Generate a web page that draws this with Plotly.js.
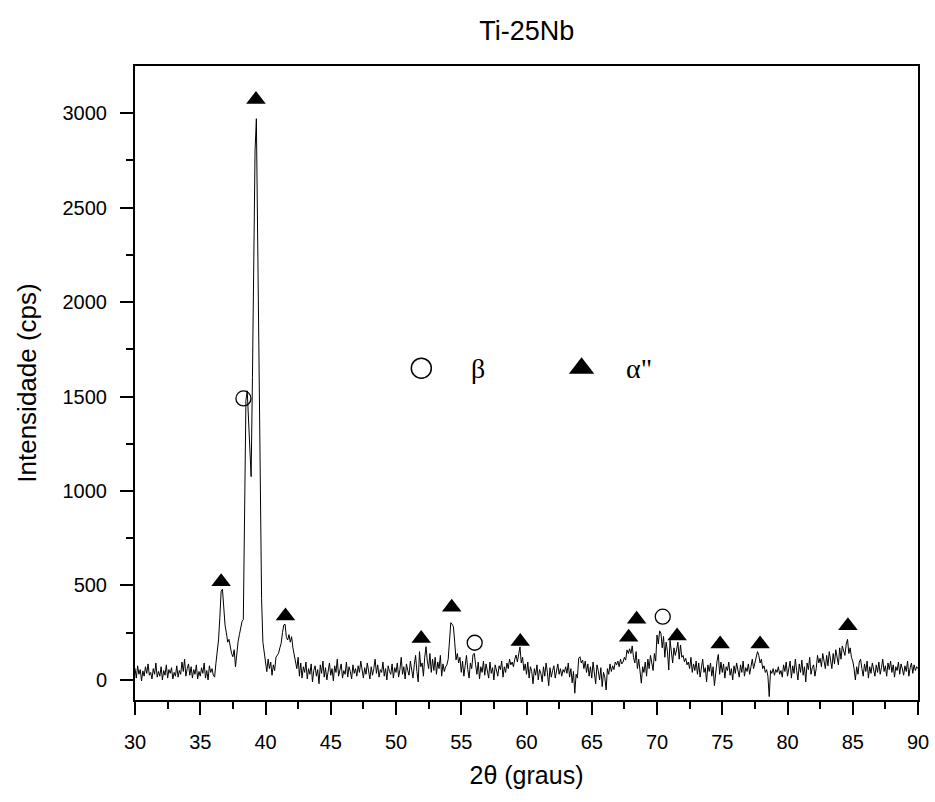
<!DOCTYPE html>
<html>
<head>
<meta charset="utf-8">
<script src="https://cdn.plot.ly/plotly-3.0.1.min.js"></script>
<style>html,body{margin:0;padding:0;background:#fff;}#chart{width:935px;height:802px;}</style>
</head>
<body>
<div id="chart"></div>
<script>
// 2theta grid: start 30, step 0.1 deg (601 points up to 90)
const twoThetaStart = 30;
const twoThetaStep = 0.1;

// Intensity (cps), one row per degree (d.0 ... d.9), last value at 90.0
const intensity = [
  62, 10, 75, 30, 55, -5, 48, 20, 70, 35,          // 30
  85, 25, 40, 5, 60, 30, 90, 15, 45, 20,           // 31
  70, 0, 50, 25, 80, 10, 55, 35, 65, 5,            // 32
  40, 20, 75, 15, 50, 30, 95, 45, 110, 20,         // 33
  60, 85, 25, 70, 10, 55, 30, 80, 5, 45,           // 34
  20, 65, 35, 90, 10, 50, 0, 75, 40, 60,           // 35
  25, 15, 88, 140, 212, 330, 470, 480, 380, 290,   // 36
  250, 200, 215, 168, 140, 123, 160, 70, 150, 203, // 37
  240, 280, 309, 320, 1100, 1480, 1530, 1400, 1200, 1076, // 38
  1600, 2100, 2800, 2970, 2250, 1700, 1050, 430, 200, 140, // 39
  90, 44, 110, 60, 95, 25, 80, 50, 120, 135,       // 40
  141, 170, 194, 250, 291, 295, 225, 212, 240, 200, // 41
  229, 170, 130, 106, 60, 120, 20, 90, 10, 70,     // 42
  40, 95, 5, 60, 30, 85, -10, 50, 75, 20,          // 43
  55, -20, 80, 35, 100, 15, 65, 0, 45, 90,         // 44
  25, 60, -5, 75, 40, 110, 20, 55, 85, 10,         // 45
  50, 30, 95, 15, 70, 45, 5, 80, 35, 60,           // 46
  20, 75, 40, 100, 55, 10, 65, 30, 90, 45,         // 47
  5, 70, 25, 60, 110, 35, 80, 15, 55, 40,          // 48
  95, 20, 60, 0, 75, 45, 30, 85, 10, 65,           // 49
  40, 90, 15, 55, 120, 30, 70, 5, 85, 50,          // 50
  25, 100, 60, 10, 80, 130, 45, -10, 150, 70,      // 51
  90, 20, 120, 176, 100, 60, 140, 40, 110, 50,     // 52
  120, 30, 95, 60, 130, 20, 85, 45, 70, 80,        // 53
  110, 220, 303, 295, 282, 200, 106, 140, 90, 120, // 54
  40, 100, 20, 75, 130, 55, 10, 90, 60, 135,       // 55
  141, 80, 30, 95, 5, 70, 40, 100, 25, 85,         // 56
  50, 10, 95, 35, 65, 0, 80, 45, 20, 75,           // 57
  55, 100, 15, 70, 40, 90, 60, 110, 80, 95,        // 58
  70, 110, 132, 95, 140, 175, 90, 120, 50, 85,     // 59
  30, 95, 10, 70, 45, -20, 60, 25, 80, 0,          // 60
  55, 35, -10, 70, 20, 90, 40, -30, 65, 15,        // 61
  50, 75, 10, 45, 85, 30, 60, 20, 55, 40,          // 62
  70, 35, 90, 15, 60, -15, 45, -70, 30, 10,        // 63
  115, 123, 90, 105, 60, 100, 40, 85, 20, 70,      // 64
  10, 95, 35, -20, 80, 50, 0, 65, -35, 40,         // 65
  15, -53, 60, 30, 85, 45, 75, 55, 95, 80,         // 66
  100, 70, 110, 85, 95, 120, 105, 159, 140, 165,   // 67
  140, 180, 120, 90, 150, 60, 110, 30, -17, 70,    // 68
  40, 95, 20, 110, 60, 130, 80, 50, 140, 100,      // 69
  238, 190, 260, 247, 170, 230, 120, 200, 150, 53, // 70
  210, 145, 90, 170, 130, 159, 200, 110, 185, 120, // 71
  130, 97, 115, 80, 95, 60, 120, 40, 85, 50,       // 72
  100, 30, 90, 15, 75, 110, 40, 65, -10, 80,       // 73
  45, 90, 20, 70, -30, 55, 100, 135, 30, 95,       // 74
  40, 85, 10, 70, 50, 95, 25, 60, 0, 75,           // 75
  35, 90, 55, 15, 80, 40, 100, 20, 65, 45,         // 76
  85, 30, 70, 110, 60, 95, 120, 150, 130, 90,      // 77
  110, 60, 75, 40, 55, 20, -88, 50, 35, 60,        // 78
  25, 55, 40, 70, 30, 50, 15, 80, 45, 95,          // 79
  20, 60, 100, 10, 75, 35, 110, 50, 0, 85,         // 80
  40, 105, 25, 70, -10, 90, 55, 120, 30, 65,       // 81
  80, 20, 60, 130, 90, 115, 70, 140, 100, 60,      // 82
  130, 75, 150, 100, 60, 140, 85, 160, 120, 80,    // 83
  170, 110, 180, 150, 130, 190, 215, 140, 170, 120, // 84
  100, 60, 0, 70, 30, 95, 110, 60, 20, 85,         // 85
  45, 100, 10, 70, 35, 90, 55, 20, 80, 40,         // 86
  95, 30, 65, 110, 45, 75, 20, 90, 55, 100,        // 87
  40, 80, 15, 70, 50, 95, 30, 85, 60, 25,          // 88
  75, 45, 100, 20, 65, 90, 35, 80, 50, 70,         // 89
  60                                               // 90
];

// Phase markers
const betaX = [38.31, 56.03, 70.44];
const betaY = [1490, 197, 335];
const alphaX = [36.6, 39.27, 41.53, 51.93, 54.27, 59.52, 67.83, 68.44, 71.54, 74.84, 77.9, 84.63];
const alphaY = [520, 3072, 339, 220, 385, 203, 226, 321, 233, 190, 190, 287];

// In-plot key
const keyBetaX = [51.94], keyBetaY = [1650];
const keyAlphaX = [64.22], keyAlphaY = [1650];
const keyLabels = ['β', 'α"'];
const keyLabelX = [56.3, 68.6];

const traces = [
  {
    type: 'scatter', mode: 'lines',
    x0: twoThetaStart, dx: twoThetaStep, y: intensity,
    line: {color: '#000', width: 1}, hoverinfo: 'skip'
  },
  {
    type: 'scatter', mode: 'markers', x: betaX, y: betaY,
    marker: {symbol: 'circle-open', size: 15, color: '#000', line: {width: 1.3, color: '#000'}}
  },
  {
    type: 'scatter', mode: 'markers', x: alphaX, y: alphaY,
    marker: {symbol: 'triangle-up', size: 17, color: '#000'}
  },
  {
    type: 'scatter', mode: 'markers', x: keyBetaX, y: keyBetaY,
    marker: {symbol: 'circle-open', size: 20, color: '#000', line: {width: 1.5, color: '#000'}}
  },
  {
    type: 'scatter', mode: 'markers', x: keyAlphaX, y: keyAlphaY,
    marker: {symbol: 'triangle-up', size: 22, color: '#000'}
  }
];

const sans = 'Liberation Sans, Arial, sans-serif';
const axisFont = {family: sans, size: 20, color: '#000'};

const layout = {
  width: 935, height: 802,
  margin: {l: 135, r: 17, t: 66, b: 102},
  paper_bgcolor: '#fff', plot_bgcolor: '#fff',
  showlegend: false,
  font: {family: sans, color: '#000'},
  title: {text: 'Ti-25Nb', font: {family: sans, size: 27, color: '#000'}, x: 0.5635, xanchor: 'center', y: 0.962, yanchor: 'middle'},
  xaxis: {
    range: [30, 90], dtick: 5, tick0: 30,
    ticks: 'outside', ticklen: 13, tickwidth: 2, tickcolor: '#000',
    minor: {dtick: 2.5, tick0: 30, ticks: 'outside', ticklen: 7, tickwidth: 2, tickcolor: '#000', showgrid: false},
    showline: true, linewidth: 2, linecolor: '#000', mirror: true,
    showgrid: false, zeroline: false,
    tickfont: axisFont, ticklabelstandoff: 10,
    title: {text: '2θ (graus)', font: {family: sans, size: 25, color: '#000'}, standoff: 14}
  },
  yaxis: {
    range: [-106, 3249], dtick: 500, tick0: 0,
    ticks: 'outside', ticklen: 13, tickwidth: 2, tickcolor: '#000',
    minor: {dtick: 250, tick0: 0, ticks: 'outside', ticklen: 7, tickwidth: 2, tickcolor: '#000', showgrid: false},
    showline: true, linewidth: 2, linecolor: '#000', mirror: true,
    showgrid: false, zeroline: false,
    tickfont: axisFont, ticklabelstandoff: 9,
    title: {text: 'Intensidade (cps)', font: {family: sans, size: 26, color: '#000'}, standoff: 18}
  },
  annotations: keyLabels.map((t, i) => ({
    text: t, x: keyLabelX[i], y: keyBetaY[0], xref: 'x', yref: 'y',
    showarrow: false, xanchor: 'center', yanchor: 'middle',
    font: {family: 'Liberation Serif, Times New Roman, serif', size: 28, color: '#000'}
  }))
};

Plotly.newPlot('chart', traces, layout, {staticPlot: true, displayModeBar: false});
</script>
</body>
</html>
